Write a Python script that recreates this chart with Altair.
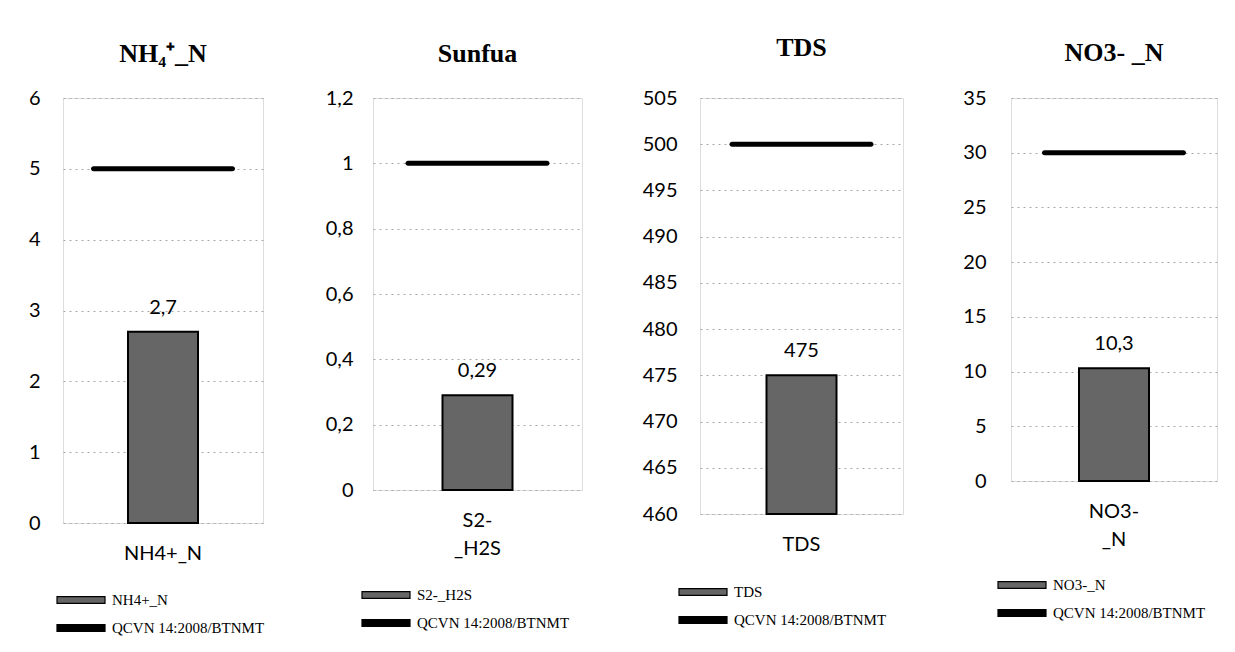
import altair as alt
import pandas as pd

# ---- data ----
titles = ["NH\u2084\u207a_N", "Sunfua", "TDS", "NO3- _N"]
categories = ["NH4+_N", "S2-_H2S", "TDS", "NO3-_N"]
values = [2.7, 0.29, 475, 10.3]
limits = [5, 1, 500, 30]
axis_min = [0, 0, 460, 0]
axis_max = [6, 1.2, 505, 35]
tick_values = [
    [0, 1, 2, 3, 4, 5, 6],
    [0, 0.2, 0.4, 0.6, 0.8, 1, 1.2],
    [460, 465, 470, 475, 480, 485, 490, 495, 500, 505],
    [0, 5, 10, 15, 20, 25, 30, 35],
]
standard = "QCVN 14:2008/BTNMT"

# ---- layout / style ----
panel_widths = [200, 209, 203, 206]
panel_heights = [425, 392, 416, 383]
y_label_pad = [23, 20, 23, 25]
title_offsets = [21.5, 21.5, 27.5, 22.5]
legend_x = [5, 0, -10, -2]
legend_y_extra = [64, 92, 65, 91]
BAR_FILL = "#666666"
LABEL_FONT = "Lato"
SERIF = "Liberation Serif"

LABEL_EXPR = "replace(format(datum.value, '~g'), '.', ',')"


def panel(i):
    df = pd.DataFrame({
        "cat": [categories[i]],
        "value": [values[i]],
        "base": [axis_min[i]],
        "limit": [limits[i]],
        "name": [categories[i]],
    })
    base = alt.Chart(df)

    x = alt.X(
        "cat:N",
        title=None,
        scale=alt.Scale(paddingInner=0, paddingOuter=0),
        axis=alt.Axis(
            labelAngle=0, ticks=False, domain=False, labelPadding=20,
            labelFont=LABEL_FONT, labelFontSize=20, labelColor="black",
            labelLineHeight=28,
            labelExpr="split(replace(datum.label, '-_', '-|_'), '|')",
        ),
    )
    yscale = alt.Scale(domain=[axis_min[i], axis_max[i]], nice=False, zero=False)
    yaxis = alt.Axis(
        values=tick_values[i], title=None, ticks=False, domain=False,
        labelPadding=y_label_pad[i], labelFont=LABEL_FONT, labelFontSize=20,
        labelColor="black", labelExpr=LABEL_EXPR,
        grid=True, gridDash=[2, 4], gridColor="#a8a8a8", gridWidth=1,
    )
    color = alt.Color(
        "series:N",
        scale=alt.Scale(domain=[categories[i], standard], range=[BAR_FILL, "black"]),
        legend=alt.Legend(
            title=None, orient="none",
            legendX=legend_x[i], legendY=panel_heights[i] + legend_y_extra[i],
            symbolType="M-2,-0.28H2V0.28H-2Z", symbolSize=576,
            symbolStrokeColor="black", symbolStrokeWidth=1.2,
            labelFont=SERIF, labelFontSize=15, labelColor="black",
            labelOffset=18, rowPadding=7, labelLimit=300,
        ),
    )

    bars = base.transform_calculate(series="datum.name").mark_bar(
        width=70, stroke="black", strokeWidth=2
    ).encode(
        x=x,
        y=alt.Y("value:Q", scale=yscale, axis=yaxis),
        y2="base:Q",
        color=color,
    )
    limit_line = base.transform_calculate(series=f"'{standard}'").mark_tick(
        size=144, thickness=5, cornerRadius=2.5, opacity=1
    ).encode(
        x=x,
        y=alt.Y("limit:Q"),
        color=color,
    )
    labels = base.transform_calculate(
        label="replace(format(datum.value, '~g'), '.', ',')"
    ).mark_text(
        dy=-24, font=LABEL_FONT, fontSize=20, color="black"
    ).encode(
        x=x,
        y=alt.Y("value:Q"),
        text="label:N",
    )

    return alt.layer(bars, limit_line, labels).properties(
        width=panel_widths[i],
        height=panel_heights[i],
        title=alt.TitleParams(
            titles[i], font=SERIF, fontSize=26, fontWeight="bold",
            color="black", offset=title_offsets[i], anchor="middle",
        ),
    )


chart = alt.hconcat(*[panel(i) for i in range(4)], spacing=58).resolve_scale(
    color="independent"
).resolve_legend(color="independent").properties(
    padding={"left": 19, "top": 26, "right": 0, "bottom": 0}
).configure_view(stroke=None).configure(background="white")

chart.save("out.html", embed_options={"renderer": "svg", "actions": False})
